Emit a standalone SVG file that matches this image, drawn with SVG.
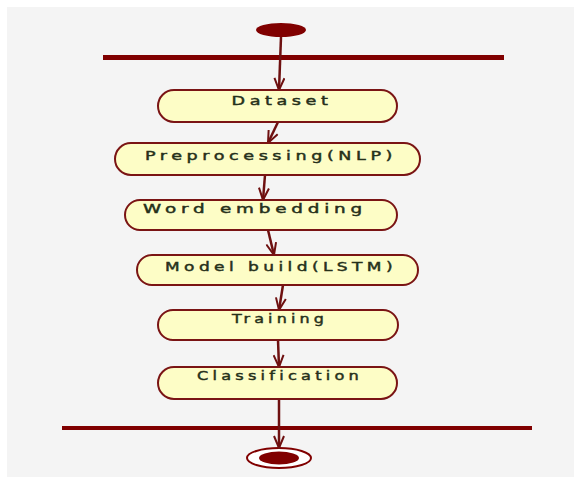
<svg xmlns="http://www.w3.org/2000/svg" width="574" height="477" viewBox="0 0 574 477">
<defs>
<style>
.node rect{fill:#fdfdc6;stroke:#7a1414;stroke-width:2}
.node text{font-family:"DejaVu Sans",sans-serif;font-size:11.5px;letter-spacing:3px;fill:#26301a;stroke:#26301a;stroke-width:0.4;text-anchor:middle}
.conn line{stroke:#6e1010;stroke-width:2.5;fill:none}
.bar{fill:#800000}
</style>
<marker id="arr" viewBox="0 0 14 12" refX="13" refY="6" markerWidth="14" markerHeight="12" markerUnits="userSpaceOnUse" orient="auto">
<path d="M1,1 L13,6 L1,11" fill="none" stroke="#6e1010" stroke-width="2"/>
</marker>
</defs>
<rect x="0" y="0" width="574" height="477" fill="#ffffff"/>
<rect x="7" y="7" width="567" height="470" fill="#f4f4f4"/>
<g id="start"><ellipse cx="281" cy="30" rx="25" ry="7" fill="#800000"/></g>
<g id="fork-top"><rect class="bar" x="103" y="55" width="401" height="5"/></g>
<g id="join-bottom"><rect class="bar" x="62" y="426" width="470" height="4"/></g>
<g id="end"><ellipse cx="279" cy="458" rx="32" ry="10" fill="#ffffff" stroke="#800000" stroke-width="2"/><ellipse cx="279" cy="458" rx="20" ry="6.5" fill="#800000"/></g>
<g class="conn" id="connectors">
<line x1="281" y1="37" x2="279" y2="90" marker-end="url(#arr)"/>
<line x1="278" y1="122" x2="268" y2="143" marker-end="url(#arr)"/>
<line x1="265" y1="175" x2="263" y2="200" marker-end="url(#arr)"/>
<line x1="268" y1="230" x2="274" y2="255" marker-end="url(#arr)"/>
<line x1="283" y1="285" x2="279" y2="310" marker-end="url(#arr)"/>
<line x1="278" y1="340" x2="279" y2="367" marker-end="url(#arr)"/>
<line x1="279" y1="399" x2="279" y2="448" marker-end="url(#arr)"/>
</g>
<g class="node" id="n-dataset"><rect x="158" y="90" width="239" height="32" rx="16"/><text x="282" y="105" textLength="101" lengthAdjust="spacingAndGlyphs">Dataset</text></g>
<g class="node" id="n-preproc"><rect x="115" y="143" width="305" height="32" rx="16"/><text x="271" y="160" textLength="252" lengthAdjust="spacingAndGlyphs">Preprocessing(NLP)</text></g>
<g class="node" id="n-word"><rect x="125" y="200" width="272" height="30" rx="15"/><text x="255" y="213" textLength="224" lengthAdjust="spacingAndGlyphs">Word embedding</text></g>
<g class="node" id="n-model"><rect x="137" y="255" width="281" height="30" rx="15"/><text x="281" y="271" textLength="232" lengthAdjust="spacingAndGlyphs">Model build(LSTM)</text></g>
<g class="node" id="n-training"><rect x="158" y="310" width="240" height="30" rx="15"/><text x="280" y="323" textLength="96" lengthAdjust="spacingAndGlyphs">Training</text></g>
<g class="node" id="n-class"><rect x="158" y="367" width="239" height="32" rx="16"/><text x="280" y="380" textLength="166" lengthAdjust="spacingAndGlyphs">Classification</text></g>
</svg>
